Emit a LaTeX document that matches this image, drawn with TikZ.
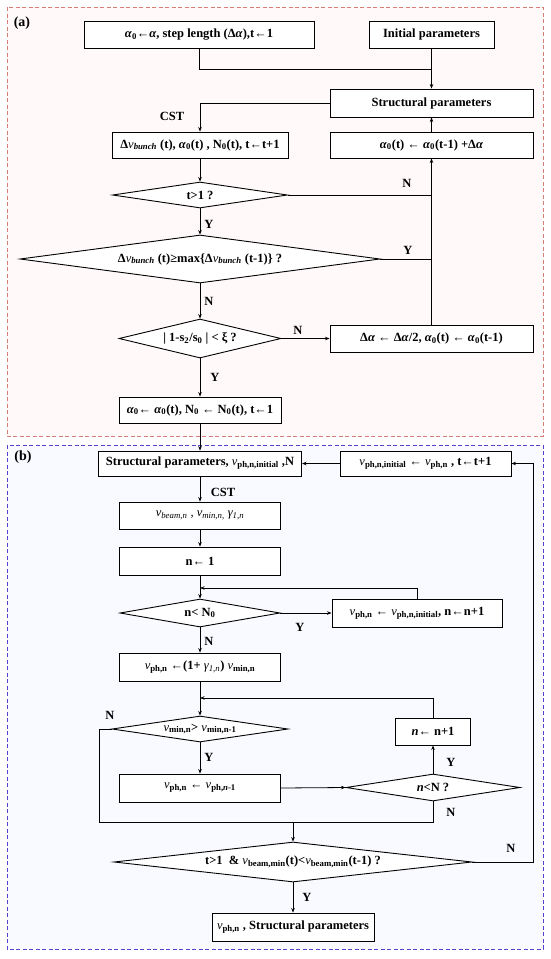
\documentclass[tikz,border=0pt]{standalone}
\usepackage{fontspec}
\setmainfont{Liberation Serif}
\usetikzlibrary{shapes.geometric,arrows.meta}
\newcommand{\sbs}[1]{\textsubscript{#1}}
\newcommand{\vv}{\textit{\mdseries v}}
\definecolor{framea}{RGB}{215,125,120}
\definecolor{frameb}{RGB}{85,65,205}
\definecolor{filla}{RGB}{255,250,249}
\definecolor{fillb}{RGB}{249,250,255}
\tikzset{
  every node/.style={font=\bfseries\fontsize{12.5}{15}\selectfont},
  box/.style={draw, line width=0.9pt, fill=white, inner sep=0pt, rectangle},
  dia/.style={draw, line width=0.9pt, fill=white, inner sep=0pt, diamond},
  arr/.style={line width=0.8pt, -{Stealth[length=4.5pt,width=3.5pt]}},
  ln/.style={line width=0.8pt},
  lbl/.style={inner sep=0pt},
  frm/.style={line width=0.9pt, dash pattern=on 4pt off 2.5pt}
}
\begin{document}
\begin{tikzpicture}[x=1pt,y=-1pt]
\useasboundingbox (0,0) rectangle (550,959);
% frames
\draw[frm, draw=framea, fill=filla] (7,7) rectangle (543,436);
\draw[frm, draw=frameb, fill=fillb] (7,445) rectangle (543,949);
\node[lbl, font=\bfseries\fontsize{14}{16}\selectfont] (la) at (22,23) {(a)};
\node[lbl, font=\bfseries\fontsize{14}{16}\selectfont] (lb) at (23,457) {(b)};

% ---------- (a) ----------
\node[box, minimum width=230pt, minimum height=27pt] (A1) at (199,34.5) {\textit{α}\sbs{0}←\textit{α}, step length (Δ\textit{α}),t←1};
\node[box, minimum width=125pt, minimum height=27pt] (Init) at (431.5,34.5) {Initial parameters};
\node[box, minimum width=203pt, minimum height=28pt] (Struct) at (431.5,103) {Structural parameters};
\node[box, minimum width=176pt, minimum height=26pt] (B) at (200,145) {Δ\vv\sbs{\textit{bunch}} (t), \textit{α}\sbs{0}(t) , N\sbs{0}(t), t←t+1};
\node[box, minimum width=203pt, minimum height=26pt] (R) at (431.5,145) {\textit{α}\sbs{0}(t) ← \textit{α}\sbs{0}(t-1) +Δ\textit{α}};
\node[dia, aspect=6.7, minimum width=175pt, minimum height=26pt] (D1) at (200,195) {t>1 ?};
\node[dia, aspect=7.5, minimum width=360pt, minimum height=48pt] (D2) at (200,259) {Δ\vv\sbs{\textit{bunch}} (t)≥max\{Δ\vv\sbs{\textit{bunch}} (t-1)\} ?};
\node[dia, aspect=4.15, minimum width=162pt, minimum height=39pt] (D3) at (200,338.5) {| 1-s\sbs{2}/s\sbs{0} | < ξ ?};
\node[box, minimum width=203pt, minimum height=27pt] (DA) at (431.5,338.5) {Δ\textit{α} ← Δ\textit{α}/2, \textit{α}\sbs{0}(t) ← \textit{α}\sbs{0}(t-1)};
\node[box, minimum width=162pt, minimum height=26pt] (Aend) at (200,410) {\textit{α}\sbs{0}← \textit{α}\sbs{0}(t), N\sbs{0} ← N\sbs{0}(t), t←1};

\coordinate (j1) at (431.5,69);
\coordinate (j2) at (431.5,195);
\coordinate (j3) at (431.5,259);
\draw[ln] (A1.south) |- (j1);
\draw[arr] (Init.south) -- (Struct.north);
\draw[arr] (Struct.west) -| (B.north);
\node[lbl] (cst1) at (172,116) {CST};
\draw[arr] (B.south) -- (D1.north);
\draw[ln] (D1.east) -- (j2);
\node[lbl] (n1) at (407,183) {N};
\draw[arr] (D1.south) -- (D2.north);
\node[lbl] (y1) at (209,224) {Y};
\draw[ln] (D2.east) -- (j3);
\node[lbl] (y2) at (408,250) {Y};
\draw[arr] (DA.north) -- (R.south);
\draw[arr] (R.north) -- (Struct.south);
\draw[arr] (D2.south) -- (D3.north);
\node[lbl] (n2) at (209,301) {N};
\draw[arr] (D3.east) -- (DA.west);
\node[lbl] (n3) at (298,330) {N};
\draw[arr] (D3.south) -- (Aend.north);
\node[lbl] (y3) at (215,377) {Y};

% ---------- (b) ----------
\node[box, minimum width=203pt, minimum height=25pt] (S2) at (200,463.5) {Structural parameters, \vv\sbs{ph,n,initial} ,N};
\node[box, minimum width=171pt, minimum height=25pt] (V) at (425.5,463.5) {\vv\sbs{ph,n,initial} ← \vv\sbs{ph,n} , t←t+1};
\node[box, minimum width=161pt, minimum height=27pt] (E) at (200,515.5) {\mdseries\itshape v\sbs{beam,n} , v\sbs{min,n,} γ\sbs{1,n}};
\node[box, minimum width=161pt, minimum height=28pt] (F) at (200,561) {n← 1};
\node[dia, aspect=5.7, minimum width=160pt, minimum height=28pt] (D4) at (200,613) {n< N\sbs{0}};
\node[box, minimum width=170pt, minimum height=28pt] (G) at (417,613) {\vv\sbs{ph,n} ← \vv\sbs{ph,n,initial}, n←n+1};
\node[box, minimum width=161pt, minimum height=28pt] (H) at (200,667) {\vv\sbs{ph,n} ←(1+ {\mdseries\itshape γ\sbs{1,n}}) \vv\sbs{min,n}};
\node[dia, aspect=6.77, minimum width=176pt, minimum height=26pt] (D5) at (200,729) {\vv\sbs{min,n}> \vv\sbs{min,n-1}};
\node[box, minimum width=75pt, minimum height=27pt] (I) at (433,731.5) {\textit{n}← n+1};
\node[dia, aspect=6.4, minimum width=174pt, minimum height=27pt] (D6) at (433,787.5) {\textit{n}<N ?};
\node[box, minimum width=161pt, minimum height=28pt] (J) at (200,788) {\vv\sbs{ph,n} ← \vv\sbs{ph,\textit{n}-1}};
\node[dia, aspect=8.95, minimum width=358pt, minimum height=40pt] (D7) at (293,862) {t>1 \ \& \vv\sbs{beam,min}(t)<\vv\sbs{beam,min}(t-1) ?};
\node[box, minimum width=162pt, minimum height=28pt] (K) at (293,927) {\vv\sbs{ph,n} , Structural parameters};

\coordinate (k1) at (200,588);
\coordinate (k2) at (200,698);
\coordinate (lc) at (99,729);
\coordinate (bl) at (99,822);
\coordinate (br) at (433,822);
\coordinate (jm) at (293,822);
\coordinate (rc) at (533,862);

\draw[arr] (Aend.south) -- (S2.north);
\draw[arr] (V.west) -- (S2.east);
\draw[arr] (S2.south) -- (E.north);
\node[lbl] (cst2) at (223,492) {CST};
\draw[arr] (E.south) -- (F.north);
\draw[arr] (F.south) -- (D4.north);
\draw[arr] (D4.east) -- (G.west);
\node[lbl] (y4) at (300,627) {Y};
\draw[arr] (G.north) |- (k1);
\draw[arr] (D4.south) -- (H.north);
\node[lbl] (n4) at (209,641) {N};
\draw[arr] (H.south) -- (D5.north);
\draw[arr] (I.north) |- (k2);
\draw[arr] (D5.south) -- (J.north);
\node[lbl] (y5) at (209,757) {Y};
\draw[arr] (J.east) -- (D6.west);
\draw[arr] (D6.north) -- (I.south);
\node[lbl] (y6) at (451,762) {Y};
\draw[ln] (D5.west) -- (lc) -- (bl) -- (br) -- (D6.south);
\node[lbl] (n5) at (110,715) {N};
\node[lbl] (n6) at (451,812) {N};
\draw[arr] (jm) -- (D7.north);
\draw[arr] (D7.east) -- (rc) |- (V.east);
\node[lbl] (n7) at (511,848) {N};
\draw[arr] (D7.south) -- (K.north);
\node[lbl] (y7) at (307,897) {Y};
\end{tikzpicture}
\end{document}
